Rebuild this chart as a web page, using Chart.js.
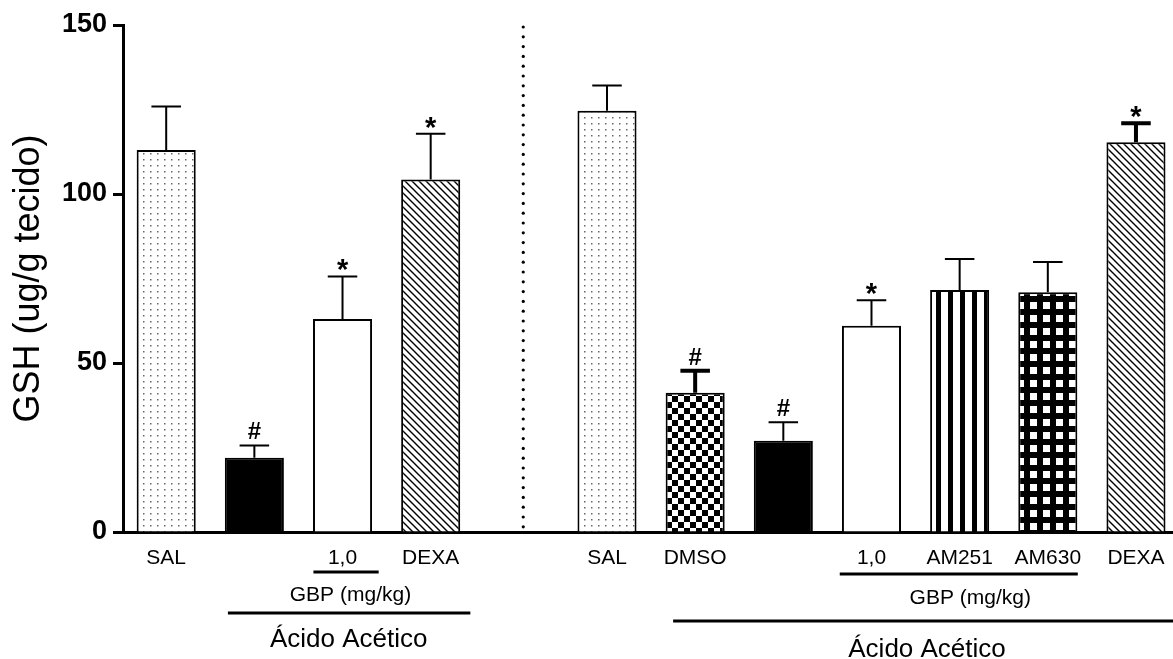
<!DOCTYPE html>
<html>
<head>
<meta charset="utf-8">
<script src="https://cdn.jsdelivr.net/npm/chart.js@4/dist/chart.umd.min.js"></script>
<style>
  html, body { margin: 0; padding: 0; background: #fff; }
  canvas { display: block; }
</style>
</head>
<body>
<canvas id="gshChart" width="1173" height="659"></canvas>
<script>
// groups along the x axis (slot 4 is the gap with the dotted divider)
const categories = ["SAL", "", "1,0", "DEXA", "", "SAL", "DMSO", "", "1,0", "AM251", "AM630", "DEXA"];
const means = [113, 22, 63, 104.3, null, 124.6, 41.2, 27, 61, 71.6, 70.9, 115.3];
const sems = [12.9, 3.6, 12.6, 13.5, null, 7.5, 6.5, 5.5, 7.6, 9.2, 9, 5.6];
const marks = ["", "#", "*", "*", "", "", "#", "#", "*", "", "", "*"];
const yTicks = [0, 50, 100, 150];

const FONT = "'Liberation Sans', Arial, sans-serif";

// looks, kept apart from the values
const barFill = ["dots", "solid", "empty", "hatch", null, "dots", "checker", "solid", "empty", "stripes", "grid", "hatch"];
const errWidth = [2, 2, 2, 2, 0, 2, 4, 2, 2, 2, 2, 4];

// x in slot units, y as offset below the x axis
const brackets = [
  { from: 1.67, to: 2.41, dy: 40 },
  { from: 0.70, to: 3.45, dy: 81 },
  { from: 7.64, to: 10.34, dy: 42 },
  { from: 5.75, to: 11.6, dy: 89 },
];
const notes = [
  { text: "GBP (mg/kg)", at: 2.09, dy: 69, size: 21 },
  { text: "Ácido Acético", at: 2.07, dy: 115, size: 26 },
  { text: "GBP (mg/kg)", at: 9.12, dy: 72, size: 21 },
  { text: "Ácido Acético", at: 8.63, dy: 125, size: 26 },
];

function makeFill(kind) {
  if (kind === "solid") return "#000";
  if (kind === "empty" || !kind) return "#fff";
  const c = document.createElement("canvas");
  const g = c.getContext("2d");
  if (kind === "dots") {
    c.width = 7; c.height = 6;
    g.fillStyle = "#fff"; g.fillRect(0, 0, 7, 6);
    g.fillStyle = "#666"; g.fillRect(3, 3, 1.5, 1.5);
  } else if (kind === "hatch") {
    c.width = 7; c.height = 7;
    g.fillStyle = "#fff"; g.fillRect(0, 0, 7, 7);
    g.strokeStyle = "#000"; g.lineWidth = 1.4;
    g.beginPath();
    [-7, 0, 7].forEach((k) => { g.moveTo(k - 1, -1); g.lineTo(k + 8, 8); });
    g.stroke();
  } else if (kind === "checker") {
    c.width = 12; c.height = 12;
    g.fillStyle = "#fff"; g.fillRect(0, 0, 12, 12);
    g.fillStyle = "#000"; g.fillRect(0, 0, 6, 6); g.fillRect(6, 6, 6, 6);
  } else if (kind === "stripes") {
    c.width = 12; c.height = 4;
    g.fillStyle = "#fff"; g.fillRect(0, 0, 12, 4);
    g.fillStyle = "#000"; g.fillRect(0, 0, 5, 4);
  } else if (kind === "grid") {
    c.width = 13; c.height = 13;
    g.fillStyle = "#000"; g.fillRect(0, 0, 13, 13);
    g.fillStyle = "#fff"; g.fillRect(3, 3, 7, 7);
  }
  return g.createPattern(c, "repeat");
}

const extras = {
  id: "extras",
  afterDraw(chart) {
    const { ctx, scales: { x, y } } = chart;
    const meta = chart.getDatasetMeta(0);
    const axisY = chart.chartArea.bottom;
    ctx.save();
    ctx.strokeStyle = "#000";
    ctx.fillStyle = "#000";

    // error bars and significance marks
    means.forEach((v, i) => {
      if (v == null) return;
      const bar = meta.data[i];
      const top = y.getPixelForValue(v + sems[i]);
      const base = y.getPixelForValue(v);
      const half = bar.width / 4;
      ctx.lineWidth = errWidth[i];
      ctx.beginPath();
      ctx.moveTo(bar.x, base);
      ctx.lineTo(bar.x, top);
      ctx.moveTo(bar.x - half, top);
      ctx.lineTo(bar.x + half, top);
      ctx.stroke();

      if (marks[i]) {
        ctx.textAlign = "center";
        ctx.textBaseline = "alphabetic";
        if (marks[i] === "#") {
          ctx.font = "bold 24px " + FONT;
          ctx.fillText("#", bar.x, top - 6);
        } else {
          ctx.font = "bold 29px " + FONT;
          ctx.fillText("*", bar.x, top + 3);
        }
      }
    });

    // dotted divider between the two experiments
    const dx = x.getPixelForValue(4.05);
    for (let py = y.getPixelForValue(150) + 2; py < axisY - 2; py += 9.8) {
      ctx.beginPath();
      ctx.arc(dx, py, 1.6, 0, Math.PI * 2);
      ctx.fill();
    }

    // group brackets under the axis
    ctx.lineWidth = 3;
    brackets.forEach((b) => {
      ctx.beginPath();
      ctx.moveTo(x.getPixelForValue(b.from), axisY + b.dy);
      ctx.lineTo(x.getPixelForValue(b.to), axisY + b.dy);
      ctx.stroke();
    });
    ctx.textAlign = "center";
    ctx.textBaseline = "alphabetic";
    notes.forEach((n) => {
      ctx.font = n.size + "px " + FONT;
      ctx.fillText(n.text, x.getPixelForValue(n.at), axisY + n.dy);
    });
    ctx.restore();
  },
};

new Chart(document.getElementById("gshChart"), {
  type: "bar",
  data: {
    datasets: [
      {
        data: means.map((v, i) => ({ x: i, y: v })),
        backgroundColor: barFill.map(makeFill),
        borderColor: "#000",
        borderWidth: 2,
        barPercentage: 0.67,
        categoryPercentage: 1,
      },
    ],
  },
  options: {
    responsive: false,
    animation: false,
    devicePixelRatio: 1,
    layout: { padding: { top: 25, left: 0, right: 0, bottom: 0 } },
    plugins: {
      legend: { display: false },
      tooltip: { enabled: false },
    },
    scales: {
      x: {
        type: "linear",
        offset: false,
        min: -0.49,
        max: 11.42,
        afterBuildTicks: (axis) => {
          axis.ticks = categories.map((_, i) => ({ value: i }));
        },
        afterFit: (axis) => {
          axis.height = 127;
        },
        grid: { display: false, offset: false },
        border: { display: true, color: "#000", width: 3 },
        ticks: {
          autoSkip: false,
          maxRotation: 0,
          padding: 6,
          color: "#000",
          font: { family: FONT, size: 21 },
          callback: (v) => categories[v] ?? "",
        },
      },
      y: {
        min: 0,
        max: 150,
        afterBuildTicks: (axis) => {
          axis.ticks = yTicks.map((v) => ({ value: v }));
        },
        afterFit: (axis) => {
          axis.width = 123;
        },
        grid: {
          drawOnChartArea: false,
          drawTicks: true,
          tickLength: 10,
          tickWidth: 3,
          tickColor: "#000",
        },
        border: { color: "#000", width: 3 },
        ticks: {
          padding: 6,
          color: "#000",
          font: { family: FONT, size: 27, weight: "bold" },
        },
        title: {
          display: true,
          text: "GSH (ug/g tecido)",
          color: "#000",
          font: { family: FONT, size: 36 },
          padding: { top: 7, bottom: 0 },
        },
      },
    },
  },
  plugins: [extras],
});
</script>
</body>
</html>
